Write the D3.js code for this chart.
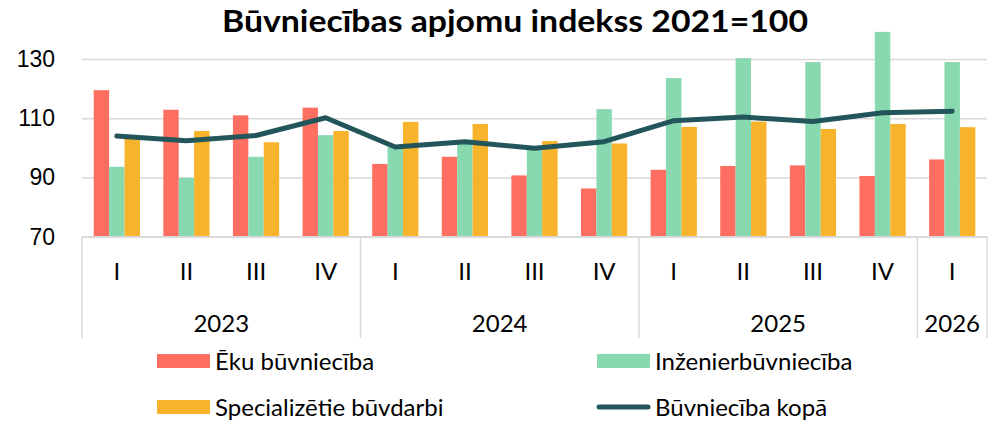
<!DOCTYPE html>
<html lang="lv">
<head>
<meta charset="UTF-8">
<title>Būvniecības apjomu indekss</title>
<script src="https://d3js.org/d3.v7.min.js"></script>
<style>
  body { margin: 0; background: #fff; }
  svg { display: block; font-family: Lato, "Open Sans", sans-serif; }
</style>
</head>
<body>
<svg width="1000" height="421"></svg>
<script>
// data
let quarters = ["I","II","III","IV","I","II","III","IV","I","II","III","IV","I"];
let years = [{y:"2023", n:4}, {y:"2024", n:4}, {y:"2025", n:4}, {y:"2026", n:1}];
let eku     = [119.5, 112.9, 111.0, 113.6, 94.6, 97.0, 90.7, 86.3, 92.6, 93.9, 94.1, 90.5, 96.1];
let inzen   = [93.6, 89.9, 97.0, 104.3, 100.4, 102.0, 100.0, 113.1, 123.6, 130.3, 129.0, 139.2, 129.0];
let special = [103.2, 105.7, 101.9, 105.7, 108.8, 108.1, 102.3, 101.5, 107.1, 108.9, 106.4, 108.1, 107.0];
let kopa    = [104.0, 102.4, 104.2, 110.2, 100.3, 102.1, 99.9, 102.1, 109.2, 110.4, 108.9, 111.9, 112.4];
let yTicks = [70, 90, 110, 130];

let seriesNames = ["Ēku būvniecība", "Inženierbūvniecība", "Specializētie būvdarbi"];
let colors = ["#FF6F61", "#88D8B0", "#F7B32B"];
let lineColor = "#23565A";

let svg = d3.select("svg");
let m = {left: 82, right: 987, top: 29.5, bottom: 236.7};

let idx = d3.range(quarters.length);
let x0 = d3.scaleBand().domain(idx).range([m.left, m.right]);
let x1 = d3.scaleBand().domain([0,1,2]).range([x0.bandwidth()*0.168, x0.bandwidth()*0.832]);
let y = d3.scaleLinear().domain([70, 140]).range([m.bottom, m.top]);

// title
svg.append("text")
  .attr("x", 515).attr("y", 32)
  .attr("text-anchor", "middle")
  .attr("textLength", 586).attr("lengthAdjust", "spacingAndGlyphs")
  .style("font-weight", "bold").style("font-size", "31px")
  .text("Būvniecības apjomu indekss 2021=100");

// gridlines + y axis labels
let yAxis = svg.append("g")
  .attr("transform", "translate(" + m.left + ",0)")
  .call(d3.axisLeft(y).tickValues(yTicks).tickSize(-(m.right - m.left)).tickPadding(27));
yAxis.select(".domain").remove();
yAxis.selectAll(".tick line").attr("stroke", "#d9d9d9").attr("stroke-width", 1.5);
yAxis.selectAll(".tick text").style("font-size", "23px").attr("fill", "#000");

// bars
let table = idx.map(i => [eku[i], inzen[i], special[i]]);
let groups = svg.append("g").selectAll("g").data(table).enter().append("g")
  .attr("transform", (d, i) => "translate(" + x0(i) + ",0)");
groups.selectAll("rect").data(d => d).enter().append("rect")
  .attr("x", (d, j) => x1(j))
  .attr("y", d => y(d))
  .attr("width", x1.bandwidth())
  .attr("height", d => y(70) - y(d))
  .attr("fill", (d, j) => colors[j]);

// total line
let line = d3.line()
  .x((d, i) => x0(i) + x0.bandwidth() / 2)
  .y(d => y(d));
svg.append("path").datum(kopa)
  .attr("d", line)
  .attr("fill", "none")
  .attr("stroke", lineColor)
  .attr("stroke-width", 5)
  .attr("stroke-linejoin", "round")
  .attr("stroke-linecap", "round");

// category axis (two levels)
let axisBottom = 338;
svg.append("line")
  .attr("x1", m.left).attr("x2", m.right)
  .attr("y1", m.bottom).attr("y2", m.bottom)
  .attr("stroke", "#d9d9d9").attr("stroke-width", 1.5);
let cat = svg.append("g");
cat.selectAll("text.q").data(quarters).enter().append("text")
  .attr("class", "q")
  .attr("x", (d, i) => x0(i) + x0.bandwidth() / 2)
  .attr("y", 280)
  .attr("text-anchor", "middle")
  .style("font-size", "24px")
  .text(d => d);
let start = 0;
let bounds = [0];
years.forEach(function (yr) {
  let a = x0(start), b = x0(start + yr.n - 1) + x0.bandwidth();
  cat.append("text")
    .attr("x", (a + b) / 2).attr("y", 332)
    .attr("text-anchor", "middle")
    .style("font-size", "24px")
    .text(yr.y);
  start += yr.n;
  bounds.push(start);
});
cat.selectAll("line").data(bounds).enter().append("line")
  .attr("x1", d => d < quarters.length ? x0(d) : m.right)
  .attr("x2", d => d < quarters.length ? x0(d) : m.right)
  .attr("y1", m.bottom).attr("y2", axisBottom)
  .attr("stroke", "#d9d9d9").attr("stroke-width", 1.5);

// legend
let legendItems = [
  {name: seriesNames[0], color: colors[0], x: 157, y: 361, type: "rect"},
  {name: seriesNames[1], color: colors[1], x: 597, y: 361, type: "rect"},
  {name: seriesNames[2], color: colors[2], x: 157, y: 407, type: "rect"},
  {name: "Būvniecība kopā", color: lineColor, x: 597, y: 407, type: "line"}
];
let lg = svg.append("g").selectAll("g").data(legendItems).enter().append("g")
  .attr("transform", d => "translate(" + d.x + "," + d.y + ")");
lg.filter(d => d.type === "rect").append("rect")
  .attr("x", 0).attr("y", -7).attr("width", 53).attr("height", 14)
  .attr("fill", d => d.color);
lg.filter(d => d.type === "line").append("line")
  .attr("x1", 2).attr("x2", 51).attr("y1", 0).attr("y2", 0)
  .attr("stroke", d => d.color).attr("stroke-width", 5).attr("stroke-linecap", "round");
lg.append("text")
  .attr("x", 58).attr("y", 8.5)
  .style("font-size", "24px")
  .text(d => d.name);
</script>
</body>
</html>
